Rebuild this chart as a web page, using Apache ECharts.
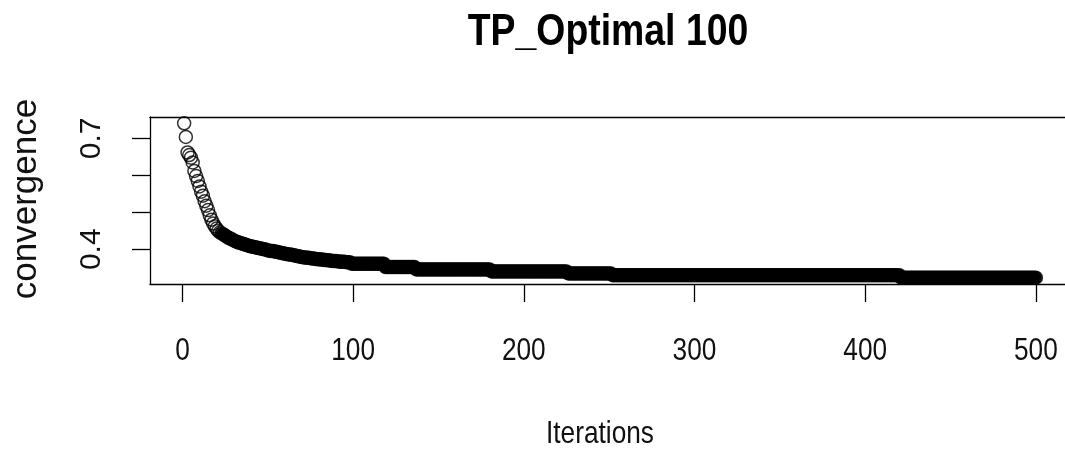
<!DOCTYPE html>
<html><head><meta charset="utf-8">
<script src="https://cdn.jsdelivr.net/npm/echarts@6/dist/echarts.min.js"></script>
<style>html,body{margin:0;padding:0;background:#fff}#c{width:1065px;height:450px}</style>
</head><body><div id="c"></div>
<script>
// iterations 1..98
const earlyValues = [
  0.741, 0.704, 0.662, 0.655, 0.648, 0.635, 0.612, 0.598, 0.585, 0.570,
  0.556, 0.545, 0.530, 0.518, 0.506, 0.492, 0.480, 0.470, 0.462, 0.456,
  0.450, 0.446, 0.443, 0.440, 0.437, 0.434, 0.431, 0.429, 0.427, 0.424,
  0.422, 0.420, 0.418, 0.417, 0.415, 0.414, 0.412, 0.411, 0.409, 0.408,
  0.407, 0.406, 0.405, 0.404, 0.403, 0.402, 0.401, 0.400, 0.399, 0.397,
  0.396, 0.395, 0.395, 0.394, 0.393, 0.392, 0.391, 0.390, 0.389, 0.388,
  0.387, 0.386, 0.386, 0.385, 0.384, 0.383, 0.382, 0.381, 0.380, 0.379,
  0.378, 0.378, 0.377, 0.377, 0.376, 0.375, 0.375, 0.374, 0.373, 0.373,
  0.372, 0.372, 0.371, 0.371, 0.370, 0.370, 0.369, 0.368, 0.368, 0.368,
  0.367, 0.367, 0.366, 0.366, 0.366, 0.365, 0.365, 0.365
];
// later iterations sit on flat plateaus: level and number of iterations on it
const plateauLevels  = [0.361, 0.352, 0.3455, 0.340, 0.3346, 0.3297, 0.3232];
const plateauLengths = [20, 18, 44, 45, 26, 169, 80];
const xTickValues = [0, 100, 200, 300, 400, 500];
const yTickValues = [0.4, 0.5, 0.6, 0.7];
const yLabelValues = [0.4, 0.7];
const titleText = 'TP_Optimal 100';
const xTitle = 'Iterations';
const yTitle = 'convergence';

const values = earlyValues.slice();
plateauLevels.forEach((v, i) => { for (let k = 0; k < plateauLengths[i]; k++) values.push(v); });
const points = values.map((v, i) => ({
  value: [i + 1, v],
  // overlapping hollow circles merge into a solid band in the reference
  itemStyle: i >= 22 ? {color: '#000'} : undefined
}));

const sans = "'Liberation Sans', Arial, sans-serif";
const lineStyle = {color: '#000', width: 1.3};

const chart = echarts.init(document.getElementById('c'), null, {renderer: 'canvas'});
chart.setOption({
  animation: false,
  backgroundColor: '#fff',
  grid: {left: 150, right: -5, top: 117, bottom: 166, outerBoundsMode: 'none', containLabel: false, show: false},
  xAxis: [{
    type: 'value', min: -19, max: 520, position: 'bottom',
    axisLine: {show: true, onZero: false, lineStyle: lineStyle},
    splitLine: {show: false},
    axisTick: {show: true, inside: false, length: 18, customValues: xTickValues, lineStyle: lineStyle},
    axisLabel: {show: false}
  }, {
    type: 'value', min: -19, max: 520, position: 'top',
    axisLine: {show: true, onZero: false, lineStyle: lineStyle},
    splitLine: {show: false}, axisTick: {show: false}, axisLabel: {show: false}
  }],
  yAxis: {
    type: 'value', min: 0.306, max: 0.758,
    axisLine: {show: true, onZero: false, lineStyle: lineStyle},
    splitLine: {show: false},
    axisTick: {show: true, inside: false, length: 18, customValues: yTickValues, lineStyle: lineStyle},
    axisLabel: {customValues: yLabelValues, rotate: 90, margin: 43, color: '#111', fontSize: 30, fontFamily: sans,
      formatter: v => v.toFixed(1)}
  },
  series: [{
    type: 'scatter',
    xAxisIndex: 0,
    data: points,
    symbol: 'circle',
    symbolSize: 13,
    clip: true,
    itemStyle: {color: 'rgba(0,0,0,0)', borderColor: '#000', borderWidth: 1.5},
    emphasis: {disabled: true}
  }]
});

// x tick labels placed through the axis scale, drawn narrow like the reference
const gfx = xTickValues.map(v => {
  const px = chart.convertToPixel({xAxisIndex: 0}, v);
  return {type: 'text', x: px, y: 351, scaleX: 0.82,
    style: {text: String(v), align: 'center', verticalAlign: 'middle', fill: '#111', fontSize: 32, fontFamily: sans}};
});
gfx.push(
  {type: 'text', x: 608, y: 33, scaleX: 0.85, style: {text: titleText, align: 'center', verticalAlign: 'middle', fill: '#000', fontSize: 44, fontWeight: 'bold', fontFamily: sans}},
  {type: 'text', x: 600, y: 434, scaleX: 0.82, style: {text: xTitle, align: 'center', verticalAlign: 'middle', fill: '#111', fontSize: 32, fontFamily: sans}},
  {type: 'text', x: 26, y: 199, rotation: Math.PI / 2, style: {text: yTitle, align: 'center', verticalAlign: 'middle', fill: '#111', fontSize: 35, fontFamily: sans}}
);
chart.setOption({graphic: gfx});
</script>
</body></html>
